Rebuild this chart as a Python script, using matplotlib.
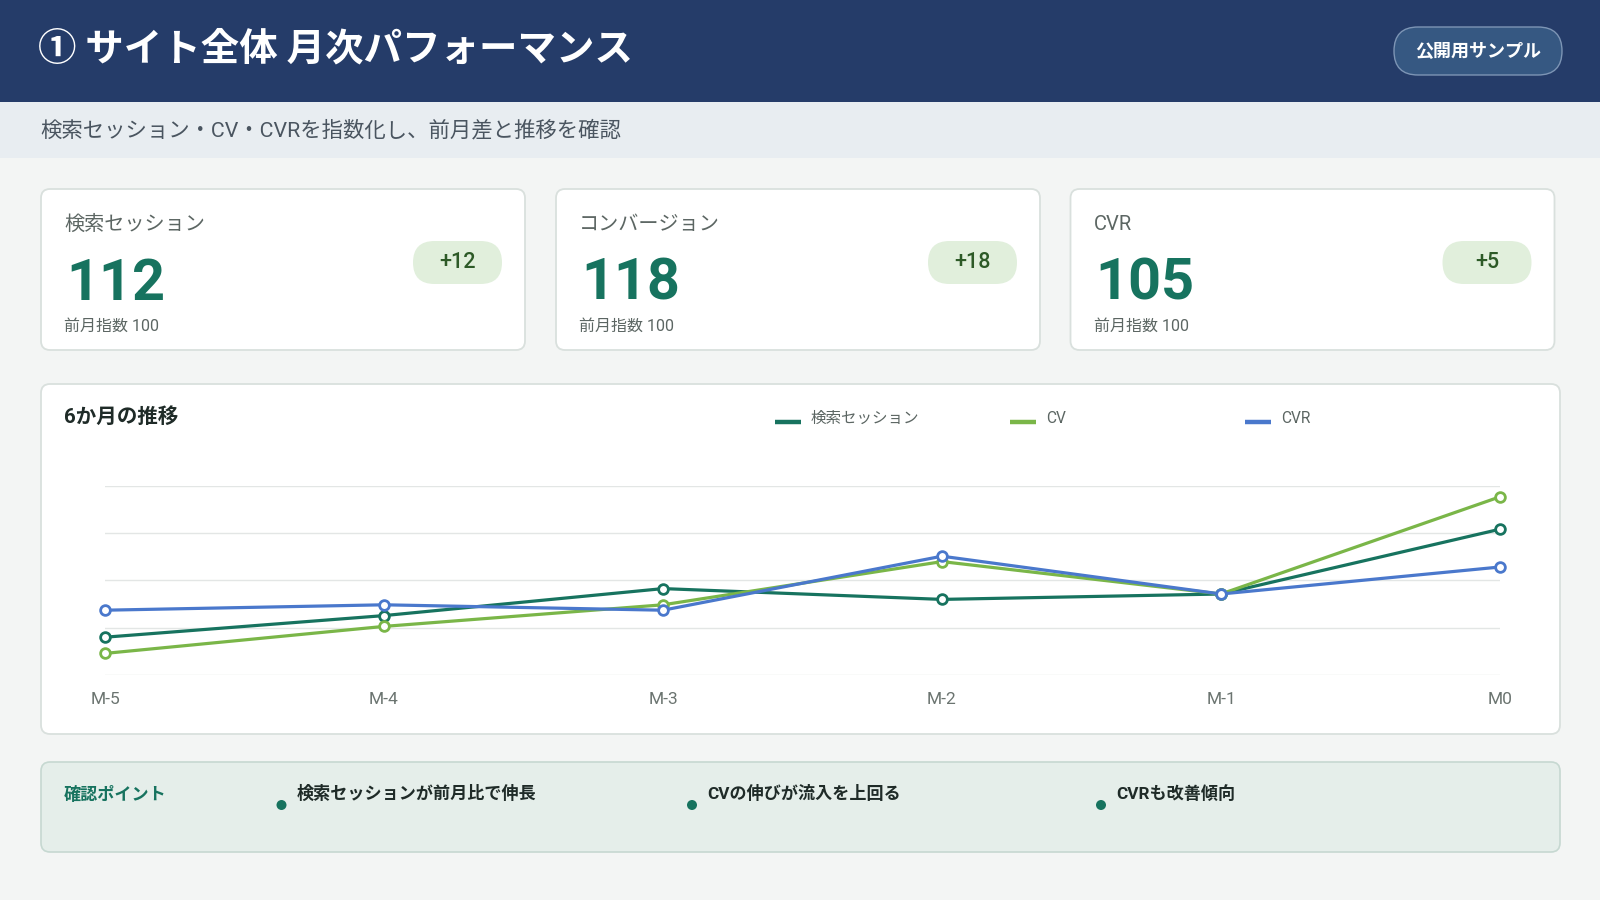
import matplotlib
matplotlib.use("Agg")
import matplotlib.pyplot as plt
from matplotlib.patches import FancyBboxPatch, Circle
from matplotlib.lines import Line2D

plt.rcParams['font.family'] = ['Roboto', 'Noto Sans CJK JP', 'DejaVu Sans']
CJK = ['Noto Sans CJK JP', 'DejaVu Sans']

# ---------------- data ----------------
title = "① サイト全体 月次パフォーマンス"
badge_text = "公開用サンプル"
subtitle = "検索セッション・CV・CVRを指数化し、前月差と推移を確認"

kpi_labels = ["検索セッション", "コンバージョン", "CVR"]
kpi_values = [112, 118, 105]
kpi_deltas = ["+12", "+18", "+5"]
kpi_base_label = "前月指数 100"

months = ["M-5", "M-4", "M-3", "M-2", "M-1", "M0"]
series_names = ["検索セッション", "CV", "CVR"]
sessions = [92, 96, 101, 99, 100, 112]
cv = [89, 94, 98, 106, 100, 118]
cvr = [97, 98, 97, 107, 100, 105]
grid_values = [85, 93.75, 102.5, 111.25, 120]

chart_title = "6か月の推移"
points_title = "確認ポイント"
points = ["検索セッションが前月比で伸長", "CVの伸びが流入を上回る", "CVRも改善傾向"]

# ---------------- colors ----------------
NAVY = "#253C69"
BG = "#F3F5F4"
TEAL = "#17735F"
GREEN = "#7AB648"
BLUE = "#4A78CC"
series_colors = [TEAL, GREEN, BLUE]
GRAY = "#5C6663"
DARK = "#1F2B28"

fig = plt.figure(figsize=(16, 9), dpi=100, facecolor=BG)
bg = fig.add_axes([0, 0, 1, 1])
bg.set_xlim(0, 1600)
bg.set_ylim(900, 0)
bg.axis("off")
bg.set_facecolor(BG)


def rbox(x, y, w, h, r, fc, ec="none", lw=0, z=1):
    p = FancyBboxPatch((x, y), w, h, boxstyle=f"round,pad=0,rounding_size={r}",
                       fc=fc, ec=ec, lw=lw, zorder=z)
    bg.add_patch(p)
    return p


# header
bg.add_patch(plt.Rectangle((0, 0), 1600, 102, fc=NAVY, ec="none", zorder=1))
bg.text(38, 49, title, color="white", fontsize=27.7, fontweight="bold",
        va="center", ha="left", zorder=3, family=CJK)
rbox(1394, 27, 168, 48, 24, fc="#365882", ec="#7D95B5", lw=1.0, z=2)
bg.text(1478, 51.5, badge_text, color="white", fontsize=13, fontweight="bold",
        va="center", ha="center", zorder=3, family=CJK)

# subtitle band
bg.add_patch(plt.Rectangle((0, 102), 1600, 56, fc="#E8EDF1", ec="none", zorder=1))
bg.text(40, 130.5, subtitle, color="#4A5560", fontsize=15.4, va="center", ha="left", zorder=3)

# KPI cards
card_x = [41, 556, 1070.5]
for i, cx in enumerate(card_x):
    rbox(cx, 189, 484, 161, 9, fc="white", ec="#D9E0DD", lw=1.3, z=2)
    bg.text(cx + 23, 224.5, kpi_labels[i], color=GRAY, fontsize=14.5,
            va="center", ha="left", zorder=3)
    bg.text(cx + 25, 284, str(kpi_values[i]), color=TEAL, fontsize=41.5,
            fontweight="bold", va="center", ha="left", zorder=3)
    bg.text(cx + 23, 326, kpi_base_label, color=GRAY, fontsize=11.5,
            va="center", ha="left", zorder=3)
    rbox(cx + 372, 241, 89, 43, 21.5, fc="#E1EFDC", z=3)
    bg.text(cx + 416.5, 263, kpi_deltas[i], color="#2D5A27", fontsize=15.5,
            fontweight="medium", va="center", ha="center", zorder=4)

# chart card
rbox(41, 384, 1519, 350, 9, fc="white", ec="#D9E0DD", lw=1.3, z=2)
bg.text(64, 417, chart_title, color=DARK, fontsize=14.8, fontweight="bold",
        va="center", ha="left", zorder=3)
leg_hx = [775, 1010, 1245]
leg_tx = [811, 1046, 1281]
for i in range(3):
    bg.add_line(Line2D([leg_hx[i], leg_hx[i] + 26], [422, 422], color=series_colors[i],
                       lw=3.2, solid_capstyle="butt", zorder=3))
    bg.text(leg_tx[i], 418.5, series_names[i], color=GRAY, fontsize=11.2,
            va="center", ha="left", zorder=3)

# line chart axes
ax = fig.add_axes([105 / 1600, 1 - 675 / 900, 1395 / 1600, 189 / 900])
ax.set_facecolor("none")
ax.set_zorder(5)
x = list(range(len(months)))
for vals, col in zip([sessions, cv, cvr], series_colors):
    ax.plot(x, vals, color=col, lw=2.3, marker="o", ms=7, mfc="white",
            mec=col, mew=2.0, clip_on=False, zorder=3)
ax.set_xlim(0, len(months) - 1)
ax.set_ylim(grid_values[0], grid_values[-1])
ax.set_yticks(grid_values)
ax.set_yticklabels([])
ax.set_xticks(x)
ax.set_xticklabels(months, color="#6B7470", fontsize=12.5)
ax.tick_params(axis="both", length=0)
ax.tick_params(axis="x", pad=12.5)
ax.grid(axis="y", color="#E3E6E5", lw=1.0)
ax.grid(axis="x", visible=False)
for s in ax.spines.values():
    s.set_visible(False)

# bottom points box
rbox(41, 762, 1519, 90, 9, fc="#E5EEEA", ec="#C6D8D1", lw=1.2, z=2)
bg.text(64, 794, points_title, color=TEAL, fontsize=12.3, fontweight="bold",
        va="center", ha="left", zorder=3)
dot_x = [281.5, 692, 1101]
for i, p in enumerate(points):
    bg.add_patch(Circle((dot_x[i], 805), 5, fc=TEAL, ec="none", zorder=3))
    bg.text(dot_x[i] + 15.5, 793.5, p, color=DARK, fontsize=12.3, fontweight="bold",
            va="center", ha="left", zorder=3)

fig.savefig("out.png", dpi=100, facecolor=BG)
